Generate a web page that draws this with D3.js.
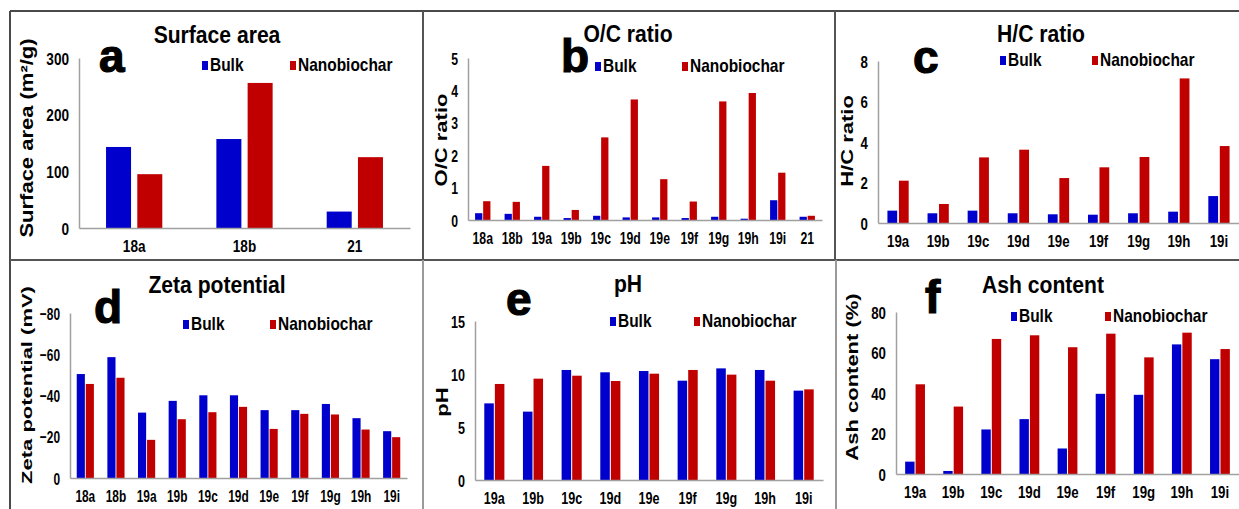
<!DOCTYPE html>
<html>
<head>
<meta charset="utf-8">
<script src="https://cdn.jsdelivr.net/npm/d3@7"></script>
<style>
	html, body { margin: 0; padding: 0; background: #fff; }
	svg text { font-family: 'Liberation Sans', Arial, sans-serif; font-weight: bold; fill: #000; }
</style>
</head>
<body>
<svg id="chart" width="1239" height="509"></svg>
<script>
// series names
const series = ['Bulk', 'Nanobiochar'];

// a: surface area
const catsArea = ['18a', '18b', '21'];
const bulkArea = [143, 157, 29];
const nanoArea = [95, 256, 125];
const ticksArea = [0, 100, 200, 300];

// b: O/C ratio
const catsOC = ['18a', '18b', '19a', '19b', '19c', '19d', '19e', '19f', '19g', '19h', '19i', '21'];
const bulkOC = [0.21, 0.19, 0.10, 0.06, 0.13, 0.08, 0.08, 0.06, 0.10, 0.04, 0.61, 0.10];
const nanoOC = [0.58, 0.56, 1.67, 0.31, 2.55, 3.72, 1.26, 0.57, 3.66, 3.92, 1.46, 0.13];
const ticksOC = [0, 1, 2, 3, 4, 5];

// c: H/C ratio
const cats19 = ['19a', '19b', '19c', '19d', '19e', '19f', '19g', '19h', '19i'];
const bulkHC = [0.61, 0.48, 0.61, 0.48, 0.43, 0.41, 0.48, 0.56, 1.33];
const nanoHC = [2.09, 0.94, 3.24, 3.62, 2.22, 2.75, 3.26, 7.14, 3.80];
const ticksHC = [0, 2, 4, 6, 8];

// d: zeta potential (mV)
const catsZeta = ['18a', '18b', '19a', '19b', '19c', '19d', '19e', '19f', '19g', '19h', '19i'];
const bulkZeta = [-50.4, -58.6, -31.7, -37.4, -40.1, -40.1, -32.9, -32.9, -35.9, -29.0, -22.7];
const nanoZeta = [-45.6, -48.6, -18.5, -28.5, -31.9, -34.5, -23.8, -31.1, -30.8, -23.5, -19.8];
const ticksZeta = [0, -20, -40, -60, -80];

// e: pH
const bulkPH = [7.23, 6.45, 10.38, 10.16, 10.28, 9.37, 10.53, 10.38, 8.43];
const nanoPH = [9.06, 9.56, 9.84, 9.34, 10.03, 10.38, 9.94, 9.37, 8.55];
const ticksPH = [0, 5, 10, 15];

// f: ash content (%)
const bulkAsh = [6.1, 1.5, 22.0, 27.1, 12.6, 39.6, 39.1, 64.0, 56.7];
const nanoAsh = [44.3, 33.3, 66.7, 68.5, 62.6, 69.3, 57.6, 69.8, 61.7];
const ticksAsh = [0, 20, 40, 60, 80];

const colors = { Bulk: '#0000cc', Nanobiochar: '#c00000' };

/**
 * layout of each panel (pixels)
 */
const panels = [
	{ letter: 'a', title: 'Surface area', ylabel: 'Surface area (m\u00b2/g)', cats: catsArea, bulk: bulkArea, nano: nanoArea, ticks: ticksArea,
		x: [79, 410], y: [228, 58], sx: 0.8, pair: 0.51, gap: 0.2,
		titleAt: [217, 43], letterAt: [99, 72], ylabelAt: [28, 138], legend: [202, 290, 71] },
	{ letter: 'b', title: 'O/C ratio', ylabel: 'O/C ratio', cats: catsOC, bulk: bulkOC, nano: nanoOC, ticks: ticksOC,
		x: [468, 822], y: [220, 58], sx: 0.72, pair: 0.52, gap: 0.1,
		titleAt: [628, 42], letterAt: [561, 72], ylabelAt: [442, 140], legend: [595, 682, 72] },
	{ letter: 'c', title: 'H/C ratio', ylabel: 'H/C ratio', cats: cats19, bulk: bulkHC, nano: nanoHC, ticks: ticksHC,
		x: [878, 1239], y: [223, 61], sx: 0.78, pair: 0.53, gap: 0.15,
		titleAt: [1041, 42], letterAt: [913, 73], ylabelAt: [848, 141], legend: [1000, 1092, 66] },
	{ letter: 'd', title: 'Zeta potential', ylabel: 'Zeta potential (mV)', cats: catsZeta, bulk: bulkZeta, nano: nanoZeta, ticks: ticksZeta,
		x: [70, 407], y: [478, 313], sx: 0.7, pair: 0.56, gap: 0.1,
		titleAt: [217, 293], letterAt: [94, 323], ylabelAt: [27, 385], legend: [183, 270, 330] },
	{ letter: 'e', title: 'pH', ylabel: 'pH', cats: cats19, bulk: bulkPH, nano: nanoPH, ticks: ticksPH,
		x: [475, 823], y: [480, 321], sx: 0.74, pair: 0.52, gap: 0.1,
		titleAt: [628, 292], letterAt: [506, 315], ylabelAt: [443, 402], legend: [610, 694, 327] },
	{ letter: 'f', title: 'Ash content', ylabel: 'Ash content (%)', cats: cats19, bulk: bulkAsh, nano: nanoAsh, ticks: ticksAsh,
		x: [896, 1239], y: [474, 312], sx: 0.78, pair: 0.52, gap: 0.1,
		titleAt: [1043, 293], letterAt: [925, 313], ylabelAt: [853, 377], legend: [1011, 1105, 322] },
];

const svg = d3.select('#chart');

/**
 * squeezed bold text (the figure is narrower than the font)
 */
function label (g, str, x, y, size, sx, anchor, rotated) {
	const squash = rotated ? ` rotate(-90) scale(1,${sx})` : ` scale(${sx},1)`;
	return g.append('text')
		.attr('transform', `translate(${x},${y})${squash}`)
		.attr('text-anchor', anchor)
		.style('font-size', `${size}px`)
		.text(str);
}

// frame lines
const frame = [
	[10, 11, 1239, 11, '#4a4a4a'],
	[10, 11, 10, 509, '#4a4a4a'],
	[10, 260, 1239, 260, '#555'],
	[423, 11, 423, 260, '#555'],
	[835, 11, 835, 260, '#555'],
	[423, 260, 423, 509, '#9a9a9a'],
	[836, 260, 836, 509, '#9a9a9a'],
];
svg.selectAll('.frame')
	.data(frame)
	.enter()
	.append('line')
	.attr('x1', d => d[0]).attr('y1', d => d[1])
	.attr('x2', d => d[2]).attr('y2', d => d[3])
	.attr('stroke', d => d[4])
	.attr('stroke-width', 2);

panels.forEach(p => {
	const g = svg.append('g');
	const lo = p.ticks[0];
	const hi = p.ticks[p.ticks.length - 1];

	const x = d3.scaleBand()
		.domain(p.cats)
		.range(p.x)
		.paddingInner(1 - p.pair)
		.paddingOuter((1 - p.pair) / 2);

	const xs = d3.scaleBand()
		.domain(series)
		.range([0, x.bandwidth()])
		.paddingInner(p.gap);

	const y = d3.scaleLinear()
		.domain([lo, hi])
		.range(p.y);

	const rows = p.cats.map((c, i) => ({ cat: c, Bulk: p.bulk[i], Nanobiochar: p.nano[i] }));

	// bars
	g.selectAll('.cat')
		.data(rows)
		.enter()
		.append('g')
		.attr('transform', d => `translate(${x(d.cat)},0)`)
		.selectAll('rect')
		.data(d => series.map(s => ({ key: s, value: d[s] })))
		.enter()
		.append('rect')
		.attr('x', d => xs(d.key))
		.attr('width', xs.bandwidth())
		.attr('y', d => y(d.value))
		.attr('height', d => y(0) - y(d.value))
		.attr('fill', d => colors[d.key]);

	// y axis
	const yAxis = g.append('g')
		.attr('transform', `translate(${p.x[0]},0)`)
		.call(d3.axisLeft(y).tickValues(p.ticks).tickSize(0).tickSizeOuter(0).tickFormat(d3.format('d')));
	yAxis.attr('font-size', null).attr('font-family', null);
	yAxis.select('.domain').attr('stroke', '#a0a0a0').attr('stroke-width', 1.5);
	yAxis.selectAll('text')
		.attr('x', 0)
		.attr('dy', '0.36em')
		.attr('transform', `translate(-10,0) scale(${p.sx},1)`)
		.style('font-size', '17px');

	// x axis
	const xAxis = g.append('g')
		.attr('transform', `translate(0,${p.y[0]})`)
		.call(d3.axisBottom(x).tickSize(0).tickPadding(12).tickSizeOuter(0));
	xAxis.attr('font-size', null).attr('font-family', null);
	xAxis.select('.domain').attr('stroke', '#a0a0a0').attr('stroke-width', 1.5);
	xAxis.selectAll('text')
		.attr('transform', `scale(${p.sx},1)`)
		.style('font-size', '17px');

	// title, panel letter, y label
	label(g, p.title, p.titleAt[0], p.titleAt[1], 24, 0.88, 'middle');
	label(g, p.letter, p.letterAt[0], p.letterAt[1], 46, 1, 'start')
		.style('stroke', '#000')
		.style('stroke-width', 1.2);
	label(g, p.ylabel, p.ylabelAt[0] + 5, p.ylabelAt[1], 22, p.sx, 'middle', true);

	// legend
	const [bx, rx, base] = p.legend;
	[[bx, 'Bulk'], [rx, 'Nanobiochar']].forEach(([lx, name]) => {
		g.append('rect')
			.attr('x', lx)
			.attr('y', base - 10)
			.attr('width', 6)
			.attr('height', 9)
			.attr('fill', colors[name]);
		label(g, name, lx + 8, base, 18, 0.86, 'start');
	});
});
</script>
</body>
</html>
